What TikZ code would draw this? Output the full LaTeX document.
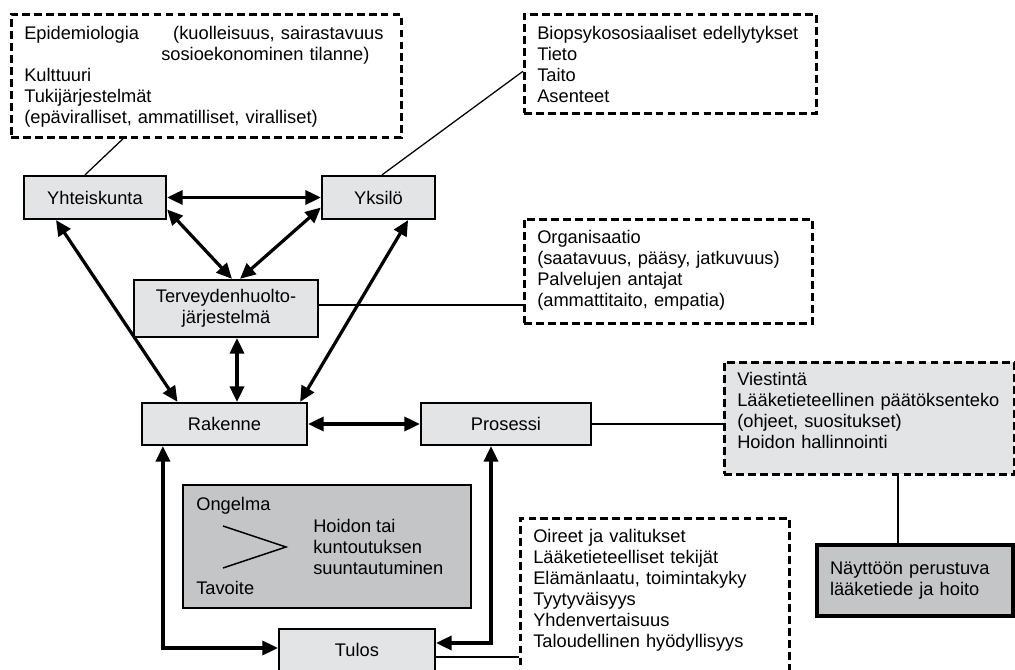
\documentclass[tikz,border=0pt]{standalone}
\usepackage{fontspec}
\setmainfont{Liberation Sans}
\usetikzlibrary{arrows.meta}
\definecolor{vaalea}{HTML}{E3E4E6}
\definecolor{harmaa}{HTML}{C3C5C7}
\begin{document}
\begin{tikzpicture}[x=0.25mm,y=-0.25mm,font=\fontsize{13}{14.94}\selectfont,
  laatikko/.style={draw,line width=1.6pt,fill=vaalea,inner sep=0pt,align=center},
  huomio/.style={draw,line width=1.8pt,dash pattern=on 5.5pt off 3pt,anchor=north west,align=left,inner xsep=3.25mm,inner ysep=0pt},
  nuoli/.style={{Triangle[length=11pt,width=10pt]}-{Triangle[length=11pt,width=10pt]},line width=2.3pt},
  viiva/.style={line width=0.9pt}]
  \clip (0,0) rectangle (1015,670);
  % katkoviivalaatikot
  \node[huomio,text width=91mm,text height=6.375mm,text depth=24.375mm] (epi) at (10,13)
    {\makebox[37.25mm][l]{Epidemiologia}(kuolleisuus, sairastavuus\\
     \hspace*{34.25mm}sosioekonominen tilanne)\\
     Kulttuuri\\ Tukijärjestelmät\\ (epäviralliset, ammatilliset, viralliset)};
  \node[huomio,text width=66.5mm,text height=6.375mm,text depth=18.375mm] (bio) at (523,13)
    {Biopsykososiaaliset edellytykset\\ Tieto\\ Taito\\ Asenteet};
  \node[huomio,text width=65.5mm,text height=6.125mm,text depth=19.875mm] (org) at (523,218)
    {Organisaatio\\ (saatavuus, pääsy, jatkuvuus)\\ Palvelujen antajat\\ (ammattitaito, empatia)};
  \node[huomio,fill=vaalea,text width=66mm,text height=5.875mm,text depth=22.125mm] (vie) at (723,361)
    {Viestintä\\ Lääketieteellinen päätöksenteko\\ (ohjeet, suositukset)\\ Hoidon hallinnointi};
  \node[huomio,text width=60.75mm,text height=6.125mm,text depth=39.625mm] (oir) at (519,517)
    {Oireet ja valitukset\\ Lääketieteelliset tekijät\\ Elämänlaatu, toimintakyky\\
     Tyytyväisyys\\ Yhdenvertaisuus\\ Taloudellinen hyödyllisyys};
  % tasot
  \node[laatikko,minimum width=35.5mm,minimum height=10.75mm] (yht) at (95,197.5) {Yhteiskunta};
  \node[laatikko,minimum width=28.25mm,minimum height=10.75mm] (yks) at (378.5,197.5) {Yksilö};
  \node[laatikko,minimum width=46mm,minimum height=14.25mm] (thj) at (226,308.5) {Terveydenhuolto-\\järjestelmä};
  \node[laatikko,minimum width=41.25mm,minimum height=10.5mm] (rak) at (224.5,424) {Rakenne};
  \node[laatikko,minimum width=42.5mm,minimum height=10.5mm] (pro) at (506,424) {Prosessi};
  \node[laatikko,minimum width=39mm,minimum height=10.5mm] (tul) at (357,650) {Tulos};
  % suuntautuminen
  \node[draw,line width=0.9pt,fill=harmaa,minimum width=72mm,minimum height=30.75mm] (suunta) at (327,546.5) {};
  \node[anchor=base west,inner sep=0pt] (ong) at (196,510.5) {Ongelma};
  \node[anchor=base west,inner sep=0pt] (tav) at (196,594.5) {Tavoite};
  \node[anchor=west,align=left,inner sep=0pt] (hoi) at (313,547) {Hoidon tai\\kuntoutuksen\\suuntautuminen};
  \draw[line width=1.1pt] (223,526) -- (286,547) -- (223,568);
  % näyttö
  \node[draw,line width=2.6pt,fill=harmaa,align=left,text width=42.5mm,inner xsep=3.25mm,minimum height=17.75mm] (ebm) at (915,580.5)
    {Näyttöön perustuva\\lääketiede ja hoito};
  % nuolet
  \draw[nuoli] (yht.east) -- (yks.west);
  \draw[nuoli] ([yshift=-3mm]yht.east) -- ([xshift=1.5mm]thj.north);
  \draw[nuoli] ([yshift=-2.5mm]yks.west) -- ([xshift=3.5mm]thj.north);
  \draw[nuoli] ([xshift=-9.75mm]yht.south) -- ([xshift=-11.75mm]rak.north);
  \draw[nuoli] ([xshift=7.4mm]yks.south) -- ([xshift=18.9mm]rak.north);
  \draw[nuoli] ([xshift=2.75mm]thj.south) -- ([xshift=2.75mm]thj.south |- rak.north);
  \draw[nuoli] (rak.east) -- (pro.west);
  \draw[nuoli] ([xshift=-15.4mm]rak.south) |- ([yshift=0.5mm]tul.west);
  \draw[nuoli] ([xshift=-3.75mm]pro.south) |- ([yshift=1.75mm]tul.east);
  % viivat
  \draw[viiva] ([xshift=-20.75mm]epi.south) -- ([xshift=-2.5mm]yht.north);
  \draw[viiva] ([yshift=-1.875mm]bio.west) -- ([xshift=0.875mm]yks.north);
  \draw[viiva] ([yshift=0.9mm]thj.east) -- ([yshift=0.9mm]thj.east -| org.west);
  \draw[viiva] (pro.east) -- (pro.east -| vie.west);
  \draw[viiva] ([xshift=-4.25mm]ebm.north) -- ([xshift=-4.25mm]ebm.north |- vie.south);
  \draw[viiva] ([yshift=-1.75mm]tul.east) -- ([yshift=-1.75mm]tul.east -| oir.west);
\end{tikzpicture}
\end{document}
